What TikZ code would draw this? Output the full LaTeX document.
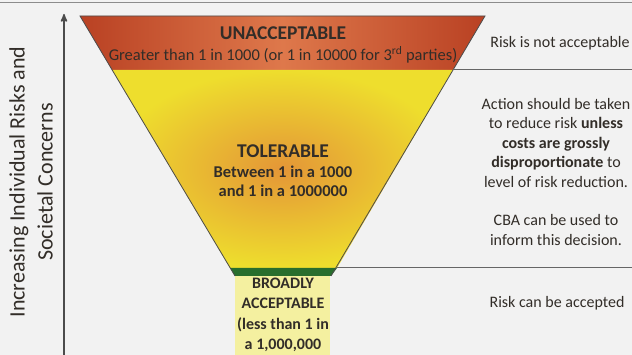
\documentclass[tikz,border=0pt]{standalone}
\usepackage{fontspec}
\setmainfont{Carlito}
\usetikzlibrary{arrows,positioning}

\definecolor{redband}{RGB}{185,65,35}
\definecolor{redmid}{RGB}{222,120,75}
\definecolor{yellowedge}{RGB}{238,222,45}
\definecolor{yelloworange}{RGB}{228,150,55}
\definecolor{greenband}{RGB}{40,110,45}
\definecolor{paleyellow}{RGB}{244,240,160}
\definecolor{ink}{RGB}{50,45,40}

\begin{document}
\begin{tikzpicture}[x=1pt,y=-1pt,>=stealth',node distance=2pt,
  band title/.style={font=\fontsize{19.5}{22}\selectfont\bfseries,text=ink,inner sep=0pt},
  band text/.style={font=\fontsize{16.5}{19}\selectfont\bfseries,text=ink,align=center,inner sep=0pt},
  side text/.style={font=\fontsize{16}{19.5}\selectfont,text=ink,align=center,inner sep=0pt},
  rule/.style={draw=black!60,line width=1pt}]

 \useasboundingbox (0,0) rectangle (632,355);
 \fill[black!5] (0,0) rectangle (632,355);
 \draw[black!45,line width=0.8pt] (0,2) -- (632,2);

 % funnel corners
 \coordinate (tl) at (80,16);
 \coordinate (tr) at (485,16);
 \coordinate (rl) at (112,70);
 \coordinate (rr) at (453,70);
 \coordinate (yl) at (230,268);
 \coordinate (yr) at (337,268);
 \coordinate (gl) at (235,276);
 \coordinate (gr) at (331,276);
 \coordinate (bl) at (235,355);
 \coordinate (br) at (330,355);

 \shade[left color=redband,right color=redband,middle color=redmid]
   (tl) -- (tr) -- (rr) -- (rl) -- cycle;
 \shade[inner color=yelloworange,outer color=yellowedge]
   (rl) -- (rr) -- (yr) -- (yl) -- cycle;
 \fill[greenband] (yl) -- (yr) -- (gr) -- (gl) -- cycle;
 \fill[paleyellow] (gl) rectangle (br);
 \draw[black!70,line width=0.8pt] (gl) -- (tl) -- (tr) -- (gr);

 % right hand rules
 \coordinate (r1) at (632,70);
 \coordinate (r2) at (632,268);
 \draw[rule] (rr) -- (r1);
 \draw[rule] (yr) -- (r2);

 % axis
 \coordinate (abot) at (64,355);
 \coordinate (atop) at (64,14);
 \draw[->,black!70,line width=1.6pt] (abot) -- (atop);

 \node[side text,font=\fontsize{22}{28}\selectfont,rotate=90] (axis) at (31,182)
   {Increasing Individual Risks and\\Societal Concerns};

 \node[band title] (unacc) at (283,33) {UNACCEPTABLE};
 \node[band text,font=\fontsize{16.5}{19}\selectfont] (greater) at (283,55)
   {Greater than 1 in 1000 (or 1 in 10000 for 3\textsuperscript{rd} parties)};
 \node[band title] (tol) at (283,151) {TOLERABLE};
 \node[band text] (between) at (283,181) {Between 1 in a 1000\\and 1 in a 1000000};
 \node[band text,font=\fontsize{16}{20.5}\selectfont\bfseries] (broad) at (283,315)
   {BROADLY\\ACCEPTABLE\\(less than 1 in\\a 1,000,000};

 \node[side text] (notacc) at (560,43) {Risk is not acceptable};
 \node[side text] (action) at (556,172) {Action should be taken\\to reduce risk \textbf{unless}\\
   \textbf{costs are grossly}\\\textbf{disproportionate} to\\level of risk reduction.\\[19pt]
   CBA can be used to\\inform this decision.};
 \node[side text] (canacc) at (557,303) {Risk can be accepted};

\end{tikzpicture}
\end{document}
